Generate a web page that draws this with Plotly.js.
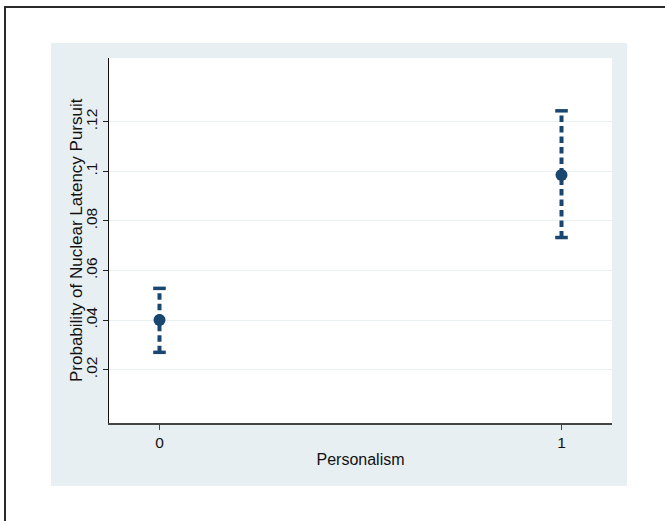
<!DOCTYPE html>
<html>
<head>
<meta charset="utf-8">
<script src="https://cdn.plot.ly/plotly-3.0.1.min.js"></script>
<style>
  html, body { margin: 0; padding: 0; background: #ffffff; width: 665px; height: 521px; overflow: hidden; }
  #frame { position: absolute; left: 4px; top: 6px; width: 700px; height: 600px;
           border-top: 2px solid #2b2b2b; border-left: 2px solid #2b2b2b; box-sizing: border-box; }
  #chart { position: absolute; left: 51px; top: 43px; width: 576px; height: 443px; }
</style>
</head>
<body>
<div id="frame"></div>
<div id="chart"></div>
<script>
// Data
const personalism = [0, 1];
const probability = [0.0400, 0.0985];
const ciLower = [0.0270, 0.0733];
const ciUpper = [0.0528, 0.1244];

const yTickVals = [0.02, 0.04, 0.06, 0.08, 0.10, 0.12];
const yTickText = ['.02', '.04', '.06', '.08', '.1', '.12'];
const xTickVals = [0, 1];
const xTickText = ['0', '1'];
const yTitle = 'Probability of Nuclear Latency Pursuit';
const xTitle = 'Personalism';

const navy = '#1a476f';
const traces = [];

// dashed CI lines
personalism.forEach((x, i) => {
  traces.push({
    x: [x, x], y: [ciLower[i], ciUpper[i]],
    type: 'scatter', mode: 'lines',
    line: { color: navy, width: 4, dash: '6.5px,4px' },
    hoverinfo: 'skip', showlegend: false
  });
});
// caps
traces.push({
  x: personalism.concat(personalism),
  y: ciLower.concat(ciUpper),
  type: 'scatter', mode: 'markers',
  marker: { symbol: 'line-ew-open', size: 9, color: navy, line: { color: navy, width: 3.5 } },
  hoverinfo: 'skip', showlegend: false
});
// point estimates
traces.push({
  x: personalism, y: probability,
  type: 'scatter', mode: 'markers',
  marker: { symbol: 'circle', size: 12, color: navy },
  showlegend: false
});

const font = { family: 'Liberation Sans, Arial, Helvetica, sans-serif', color: '#111', size: 15.5 };

const layout = {
  width: 576, height: 443,
  margin: { l: 58, r: 15, t: 15, b: 63, pad: 0 },
  paper_bgcolor: '#e8eff2',
  plot_bgcolor: '#ffffff',
  font: font,
  showlegend: false,
  xaxis: {
    range: [-0.1256, 1.1256],
    tickvals: xTickVals, ticktext: xTickText,
    ticks: 'outside', ticklen: 5, tickwidth: 1, tickcolor: '#444',
    showline: true, linecolor: '#444', linewidth: 1.5,
    showgrid: false, zeroline: false,
    tickfont: { size: 15.5 },
    title: { text: xTitle, font: { size: 16 }, standoff: 3 }
  },
  yaxis: {
    range: [-0.0015, 0.1457],
    tickvals: yTickVals, ticktext: yTickText,
    tickangle: -90,
    ticks: 'outside', ticklen: 5, tickwidth: 1, tickcolor: '#222',
    showline: true, linecolor: '#111', linewidth: 1.2,
    showgrid: true, gridcolor: '#eaf1f3', gridwidth: 1,
    zeroline: false,
    tickfont: { size: 15.5 }
  },
  annotations: [{
    text: yTitle, textangle: -90,
    xref: 'paper', yref: 'paper',
    x: -32.5 / 503, y: 0.5,
    xanchor: 'center', yanchor: 'middle',
    showarrow: false,
    font: { size: 17, color: '#111' }
  }]
};

Plotly.newPlot('chart', traces, layout, { displayModeBar: false, staticPlot: true });
</script>
</body>
</html>
